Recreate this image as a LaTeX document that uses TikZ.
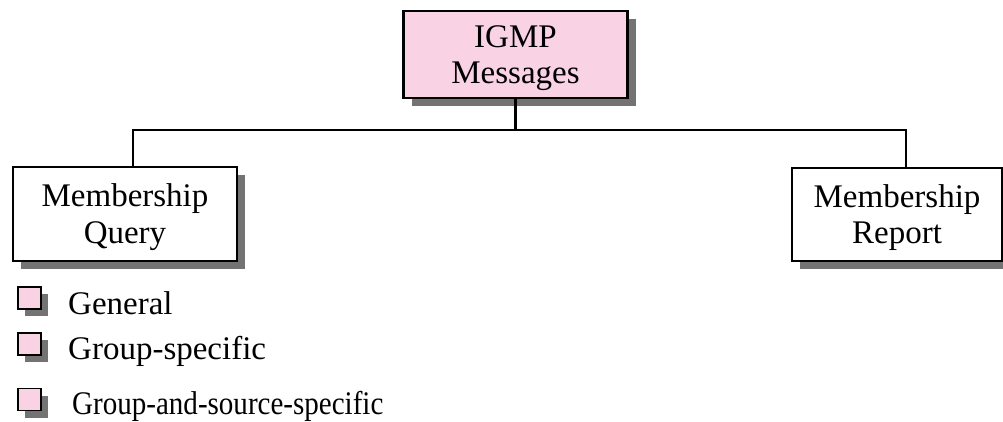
\documentclass[tikz,border=0pt]{standalone}
\usepackage{fontspec}
\setmainfont{Liberation Serif}
\usetikzlibrary{shadows}
\definecolor{pinkfill}{RGB}{249,210,228}
\newcommand{\boxtext}[2]{\raisebox{-3.5pt}[\height][\depth]{\begin{tabular}{@{}c@{}}#1\\#2\end{tabular}}}
\begin{document}
\begin{tikzpicture}[x=1pt,y=-1pt,
  box/.style={draw=black, line width=2.2pt, fill=white, inner sep=0pt, align=center,
    font=\fontsize{33}{36.5}\selectfont,
    drop shadow={shadow xshift=8pt, shadow yshift=-8pt, fill=black!55, opacity=1}},
  bulletbox/.style={draw=black, line width=1.6pt, fill=pinkfill, inner sep=0pt,
    minimum width=23pt, minimum height=22pt,
    drop shadow={shadow xshift=7pt, shadow yshift=-7pt, fill=black!55, opacity=1}},
  itemtext/.style={anchor=base west, inner sep=0pt, font=\fontsize{33}{36}\selectfont},
  conn/.style={draw=black, line width=2.2pt}]
\useasboundingbox (0,0) rectangle (1003,421);
\clip (0,0) rectangle (1003,421);
\renewcommand{\arraystretch}{1}
\node[box, fill=pinkfill, minimum width=224pt, minimum height=87pt] (igmp) at (515.5,54.5) {\boxtext{IGMP}{Messages}};
\node[box, minimum width=224pt, minimum height=94pt] (query) at (125,214) {\boxtext{Membership}{Query}};
\node[box, minimum width=210pt, minimum height=93pt] (report) at (897,214.5) {\boxtext{Membership}{Report}};
\coordinate (junc) at (515.5,130);
\draw[conn] (igmp.south) -- (junc);
\draw[conn] (junc) -| ([xshift=8pt]query.north);
\draw[conn] (junc) -| ([xshift=9pt]report.north);
\node[bulletbox] (b1) at (29.5,298) {};
\node[bulletbox] (b2) at (29.5,344) {};
\node[bulletbox] (b3) at (29.5,399.5) {};
\node[itemtext] (t1) at (68,314) {General};
\node[itemtext] (t2) at (68,359) {Group-specific};
\node[itemtext] (t3) at (72,414) {\scalebox{0.88}[1]{Group-and-source-specific}};
\end{tikzpicture}
\end{document}
